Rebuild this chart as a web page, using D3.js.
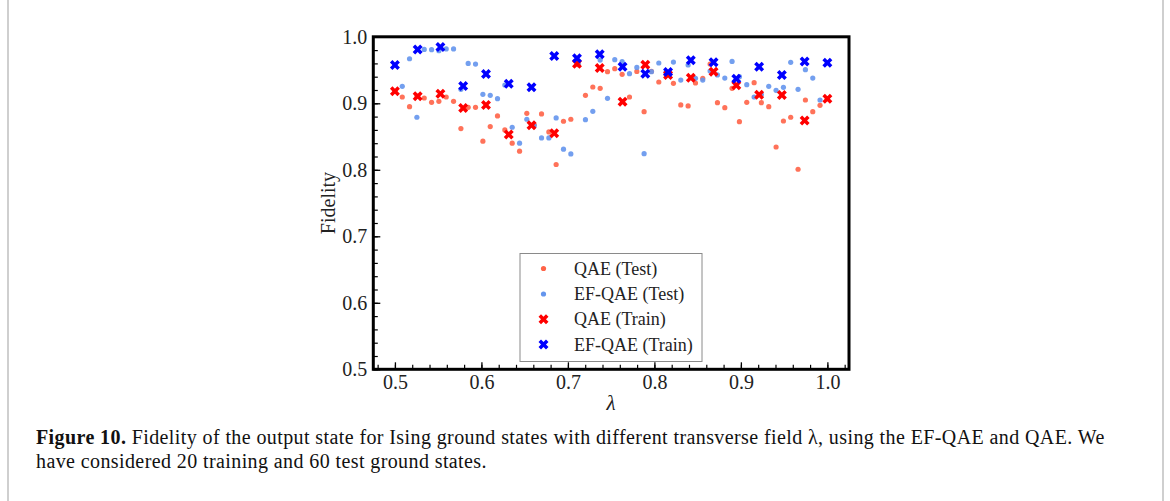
<!DOCTYPE html>
<html>
<head>
<meta charset="utf-8">
<script src="https://cdn.jsdelivr.net/npm/d3@7"></script>
<style>
    body { margin: 0; background: white; }
    text { font-family: "Liberation Serif", serif; }
</style>
</head>
<body>
<div id="chart"></div>
<script>
// lambda values (20 training states, 60 test states)
const trainLambda = [0.5000, 0.5263, 0.5526, 0.5789, 0.6053, 0.6316, 0.6579, 0.6842, 0.7105, 0.7368,
    0.7632, 0.7895, 0.8158, 0.8421, 0.8684, 0.8947, 0.9211, 0.9474, 0.9737, 1.0000];

const testLambda = [0.5000, 0.5085, 0.5169, 0.5254, 0.5339, 0.5424, 0.5508, 0.5593, 0.5678, 0.5763,
    0.5847, 0.5932, 0.6017, 0.6102, 0.6186, 0.6271, 0.6356, 0.6441, 0.6525, 0.6610,
    0.6695, 0.6780, 0.6864, 0.6949, 0.7034, 0.7119, 0.7203, 0.7288, 0.7373, 0.7458,
    0.7542, 0.7627, 0.7712, 0.7797, 0.7881, 0.7966, 0.8051, 0.8136, 0.8220, 0.8305,
    0.8390, 0.8475, 0.8559, 0.8644, 0.8729, 0.8814, 0.8898, 0.8983, 0.9068, 0.9153,
    0.9237, 0.9322, 0.9407, 0.9492, 0.9576, 0.9661, 0.9746, 0.9831, 0.9915, 1.0000];

// fidelities
const qaeTest = [0.918, 0.9095, 0.895, 0.911, 0.908, 0.9015, 0.903, 0.9095, 0.903, 0.862,
    0.894, 0.894, 0.843, 0.865, 0.881, 0.86, 0.84, 0.828, 0.885, 0.868,
    0.884, 0.857, 0.808, 0.873, 0.876, 0.958, 0.912, 0.9245, 0.9225, 0.9476,
    0.952, 0.9436, 0.9095, 0.948, 0.8874, 0.948, 0.932, 0.943, 0.930, 0.8975,
    0.896, 0.9305, 0.9375, 0.959, 0.901, 0.8934, 0.9225, 0.8724, 0.9015, 0.931,
    0.901, 0.895, 0.8343, 0.8734, 0.879, 0.8008, 0.905, 0.8874, 0.897, 0.907];

const efqaeTest = [0.9576, 0.9256, 0.967, 0.879, 0.981, 0.9806, 0.979, 0.9817, 0.9817, 0.921,
    0.960, 0.959, 0.9135, 0.912, 0.907, 0.9275, 0.864, 0.84, 0.876, 0.866,
    0.848, 0.848, 0.878, 0.831, 0.8238, 0.96, 0.8754, 0.888, 0.965, 0.9075,
    0.9656, 0.9626, 0.9445, 0.954, 0.8243, 0.9476, 0.9606, 0.947, 0.962, 0.935,
    0.9576, 0.9375, 0.935, 0.9486, 0.9426, 0.938, 0.963, 0.94, 0.928, 0.9095,
    0.913, 0.9255, 0.9195, 0.924, 0.9616, 0.921, 0.9506, 0.938, 0.905, 0.961];

const qaeTrain = [0.918, 0.9105, 0.9145, 0.893, 0.8975, 0.853, 0.867, 0.855, 0.9596, 0.953,
    0.9024, 0.958, 0.9426, 0.9385, 0.9476, 0.927, 0.913, 0.9125, 0.874, 0.907];

const efqaeTrain = [0.9576, 0.981, 0.9847, 0.926, 0.944, 0.9295, 0.924, 0.971, 0.9677, 0.9737,
    0.955, 0.9445, 0.947, 0.9647, 0.9616, 0.937, 0.955, 0.9426, 0.963, 0.961];

const xTicks = [0.5, 0.6, 0.7, 0.8, 0.9, 1.0];
const yTicks = [0.5, 0.6, 0.7, 0.8, 0.9, 1.0];
const legendLabels = ["QAE (Test)", "EF-QAE (Test)", "QAE (Train)", "EF-QAE (Train)"];

const W = 1170, H = 501;
const plot = {left: 373.3, right: 849, top: 36.8, bottom: 369.3};

const svg = d3.select("#chart").append("svg")
    .attr("width", W)
    .attr("height", H);

// page border lines
svg.append("line").attr("x1", 8).attr("x2", 8).attr("y1", 0).attr("y2", H)
    .attr("stroke", "#cfcfcf").attr("stroke-width", 2);
svg.append("line").attr("x1", 1163).attr("x2", 1163).attr("y1", 0).attr("y2", H)
    .attr("stroke", "#cfcfcf").attr("stroke-width", 2);

const x = d3.scaleLinear().domain([0.475, 1.025]).range([plot.left, plot.right]);
const y = d3.scaleLinear().domain([0.5, 1.0]).range([plot.bottom, plot.top]);

const minorX = d3.range(24, 52, 1).map(d => d / 50);   // every 0.02
const minorY = d3.range(25, 51, 1).map(d => d / 50);

// minor ticks
svg.append("g")
    .attr("transform", "translate(0," + plot.bottom + ")")
    .call(d3.axisBottom(x).tickValues(minorX).tickFormat("").tickSize(-4.5))
    .call(g => g.select(".domain").remove())
    .selectAll("line").attr("stroke", "#000").attr("stroke-width", 1.2);
svg.append("g")
    .attr("transform", "translate(" + plot.left + ",0)")
    .call(d3.axisLeft(y).tickValues(minorY).tickFormat("").tickSize(-4.5))
    .call(g => g.select(".domain").remove())
    .selectAll("line").attr("stroke", "#000").attr("stroke-width", 1.2);

// major ticks + labels
const xAxisGroup = svg.append("g")
    .attr("transform", "translate(0," + plot.bottom + ")")
    .call(d3.axisBottom(x).tickValues(xTicks).tickFormat(d3.format(".1f")).tickSize(-7).tickPadding(6))
    .call(g => g.select(".domain").remove());
xAxisGroup.selectAll("line").attr("stroke", "#000").attr("stroke-width", 1.3);
xAxisGroup.selectAll("text").attr("font-size", 20).attr("fill", "#222")
    .style("font-family", "'Liberation Serif', serif");

const yAxisGroup = svg.append("g")
    .attr("transform", "translate(" + plot.left + ",0)")
    .call(d3.axisLeft(y).tickValues(yTicks).tickFormat(d3.format(".1f")).tickSize(-7).tickPadding(6))
    .call(g => g.select(".domain").remove());
yAxisGroup.selectAll("line").attr("stroke", "#000").attr("stroke-width", 1.3);
yAxisGroup.selectAll("text").attr("font-size", 20).attr("fill", "#222")
    .style("font-family", "'Liberation Serif', serif");

// axis labels
svg.append("text")
    .attr("x", (plot.left + plot.right) / 2)
    .attr("y", 410)
    .attr("text-anchor", "middle")
    .attr("font-size", 21)
    .attr("font-style", "italic")
    .attr("fill", "#222")
    .text("λ");

svg.append("text")
    .attr("transform", "translate(335," + (plot.top + plot.bottom) / 2 + ")rotate(-90)")
    .attr("text-anchor", "middle")
    .attr("font-size", 20)
    .attr("fill", "#222")
    .text("Fidelity");

// marker shapes
const crossPath = d3.symbol().type(d3.symbolCross).size(62)();

// points
const pts = svg.append("g");

pts.selectAll(".qaeTest")
    .data(testLambda.map((l, i) => [l, qaeTest[i]]))
    .enter().append("circle")
    .attr("cx", d => x(d[0]))
    .attr("cy", d => y(d[1]))
    .attr("r", 2.6)
    .style("fill", "tomato")
    .style("opacity", 0.9);

pts.selectAll(".efTest")
    .data(testLambda.map((l, i) => [l, efqaeTest[i]]))
    .enter().append("circle")
    .attr("cx", d => x(d[0]))
    .attr("cy", d => y(d[1]))
    .attr("r", 2.6)
    .style("fill", "cornflowerblue")
    .style("opacity", 0.9);

pts.selectAll(".qaeTrain")
    .data(trainLambda.map((l, i) => [l, qaeTrain[i]]))
    .enter().append("path")
    .attr("d", crossPath)
    .attr("transform", d => "translate(" + x(d[0]) + "," + y(d[1]) + ")rotate(45)")
    .style("fill", "#ff0000");

pts.selectAll(".efTrain")
    .data(trainLambda.map((l, i) => [l, efqaeTrain[i]]))
    .enter().append("path")
    .attr("d", crossPath)
    .attr("transform", d => "translate(" + x(d[0]) + "," + y(d[1]) + ")rotate(45)")
    .style("fill", "#0000ff");

// frame
svg.append("rect")
    .attr("x", plot.left)
    .attr("y", plot.top)
    .attr("width", plot.right - plot.left)
    .attr("height", plot.bottom - plot.top)
    .attr("fill", "none")
    .attr("stroke", "#000")
    .attr("stroke-width", 3);

// legend
const legend = svg.append("g");
legend.append("rect")
    .attr("x", 520)
    .attr("y", 253.5)
    .attr("width", 182)
    .attr("height", 108)
    .attr("fill", "white")
    .attr("stroke", "#8a8a8a")
    .attr("stroke-width", 1);

const rowY = [268.5, 294, 319.3, 344.5];
legendLabels.forEach((lab, i) => {
    if (i < 2) {
        legend.append("circle")
            .attr("cx", 543.5).attr("cy", rowY[i]).attr("r", 2.6)
            .style("fill", i === 0 ? "tomato" : "cornflowerblue");
    } else {
        legend.append("path")
            .attr("d", crossPath)
            .attr("transform", "translate(543.5," + rowY[i] + ")rotate(45)")
            .style("fill", i === 2 ? "#ff0000" : "#0000ff");
    }
    legend.append("text")
        .attr("x", 574)
        .attr("y", rowY[i] + 6)
        .attr("font-size", 18)
        .attr("fill", "#222")
        .text(lab);
});

// caption
const cap = svg.append("text").attr("x", 36).attr("y", 444)
    .attr("font-size", 20).attr("letter-spacing", 0.4).attr("fill", "#111");
cap.append("tspan").attr("font-weight", "bold").text("Figure 10.");
cap.append("tspan").text(" Fidelity of the output state for Ising ground states with different transverse field λ, using the EF-QAE and QAE. We");
svg.append("text").attr("x", 36).attr("y", 468)
    .attr("font-size", 20).attr("letter-spacing", 0.4).attr("fill", "#111")
    .text("have considered 20 training and 60 test ground states.");
</script>
</body>
</html>
